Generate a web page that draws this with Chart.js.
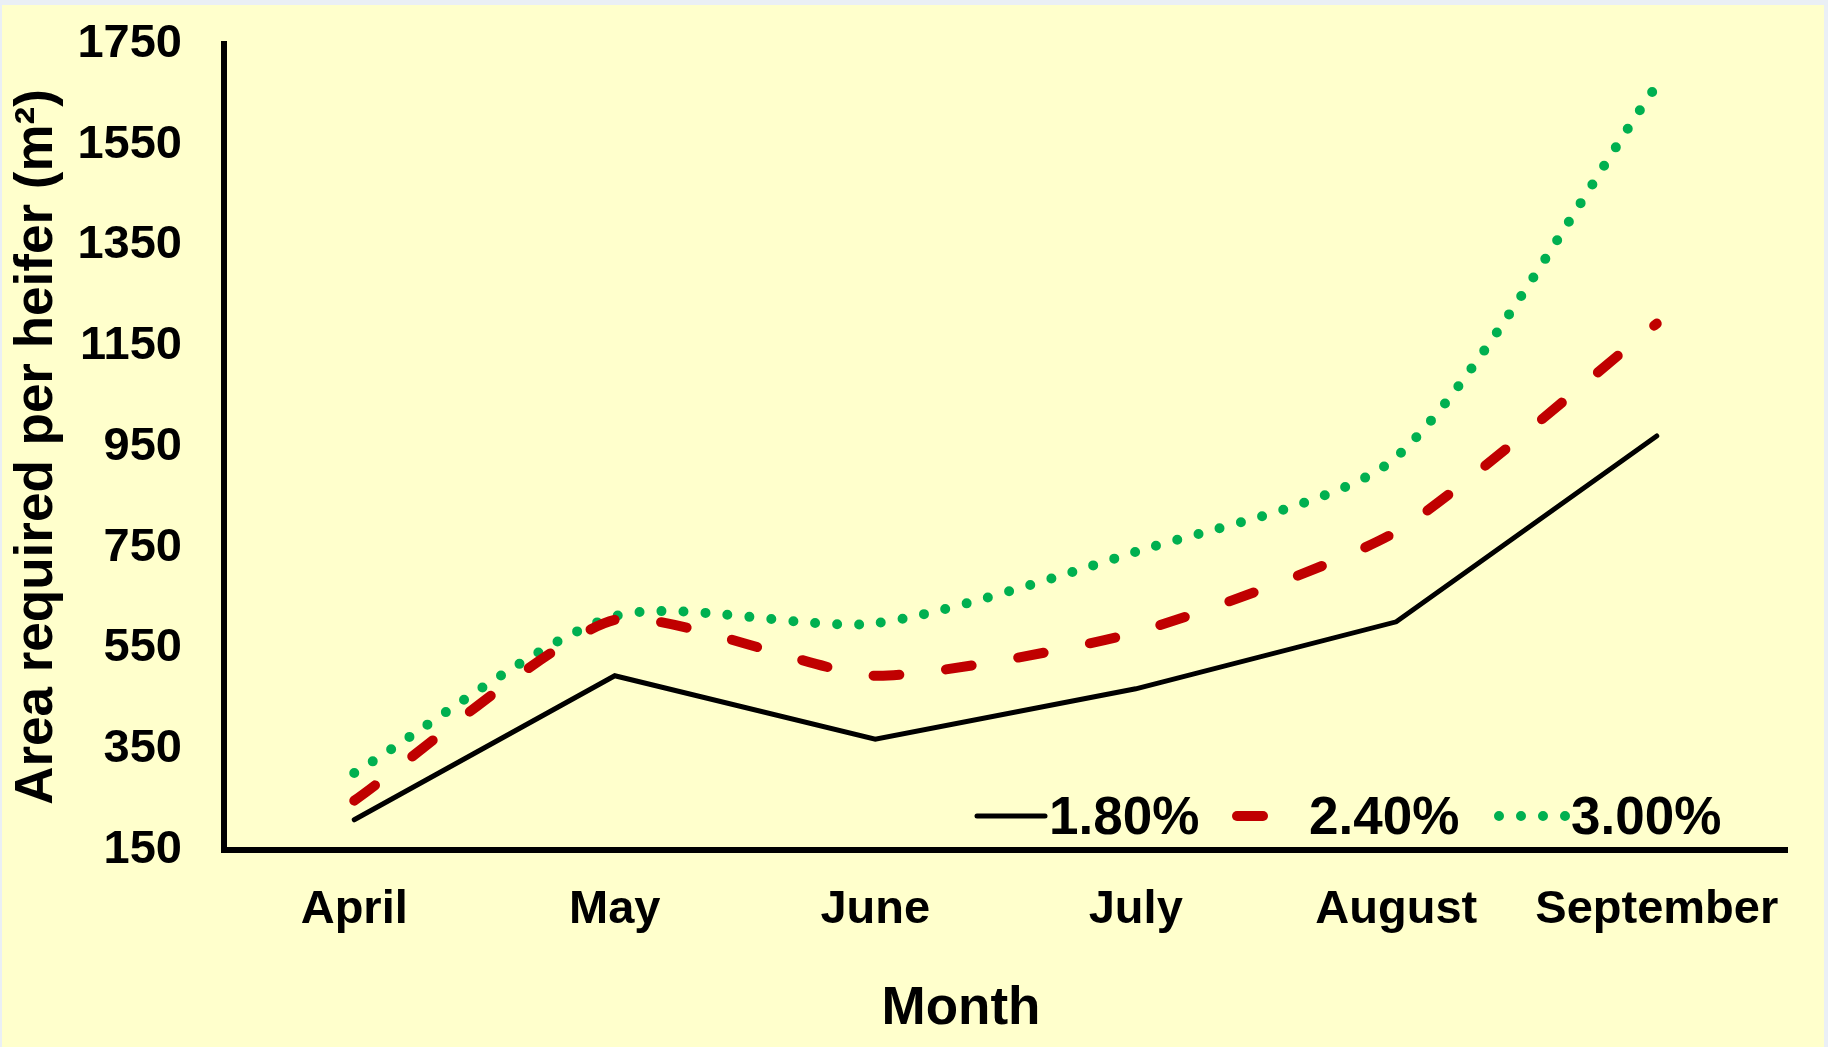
<!DOCTYPE html>
<html>
<head>
<meta charset="utf-8">
<title>Area required per heifer</title>
<script src="https://cdn.jsdelivr.net/npm/chart.js@4.4.1/dist/chart.umd.min.js"></script>
<style>
  html, body { margin: 0; padding: 0; background: #eaeff5; overflow: hidden; }
  #wrap { position: absolute; left: 2px; top: 5px; width: 1822px; height: 1042px; background: #ffffcc; }
</style>
</head>
<body>
<div id="wrap"><canvas id="areaChart" width="1822" height="1042"></canvas></div>
<script>
// months on the x axis
const months = ['April', 'May', 'June', 'July', 'August', 'September'];
// intake levels (legend)
const seriesLabels = ['1.80%', '2.40%', '3.00%'];
// area needed per heifer, m2
const area180 = [210, 496, 370, 470, 603, 972];
const area240 = [248, 607, 496, 582, 782, 1195];
const area300 = [303, 614, 600, 742, 930, 1668];
const yTicks = [150, 350, 550, 750, 950, 1150, 1350, 1550, 1750];

const FONT = "'Liberation Sans', Arial, sans-serif";

// legend drawn inside the plot, bottom right
const insideLegend = {
  id: 'insideLegend',
  afterDatasetsDraw(chart) {
    const { ctx, chartArea } = chart;
    const y = chartArea.bottom - 34;
    const starts = [753, 1013, 1275]; // offset from chartArea.left
    const sampleLen = 68;
    ctx.save();
    chart.data.datasets.forEach((ds, i) => {
      const x0 = chartArea.left + starts[i];
      ctx.beginPath();
      ctx.strokeStyle = ds.borderColor;
      ctx.lineWidth = ds.borderWidth;
      ctx.lineCap = ds.borderCapStyle || 'butt';
      ctx.setLineDash(ds.borderDash || []);
      ctx.moveTo(x0, y);
      ctx.lineTo(x0 + sampleLen, y);
      ctx.stroke();
      ctx.setLineDash([]);
      ctx.fillStyle = '#000';
      ctx.font = 'bold 53px ' + FONT;
      ctx.textAlign = 'left';
      ctx.textBaseline = 'middle';
      ctx.fillText(ds.label, x0 + sampleLen + 4, y + 3);
    });
    // x axis title
    ctx.font = 'bold 53px ' + FONT;
    ctx.textAlign = 'center';
    ctx.fillText('Month', chartArea.left + 737, chartArea.bottom + 159);
    ctx.restore();
  }
};

const ctx = document.getElementById('areaChart').getContext('2d');
new Chart(ctx, {
  type: 'line',
  data: {
    labels: months,
    datasets: [
      {
        label: seriesLabels[0],
        data: area180,
        borderColor: '#000000',
        borderWidth: 5,
        borderCapStyle: 'round',
        tension: 0
      },
      {
        label: seriesLabels[1],
        data: area240,
        borderColor: '#c00000',
        borderWidth: 10,
        borderCapStyle: 'round',
        borderDash: [26, 47],
        tension: 0.2
      },
      {
        label: seriesLabels[2],
        data: area300,
        borderColor: '#00b050',
        borderWidth: 10,
        borderCapStyle: 'round',
        borderDash: [0, 22],
        tension: 0.25
      }
    ]
  },
  options: {
    responsive: false,
    animation: false,
    layout: { padding: { top: 39, right: 37, left: 0, bottom: 0 } },
    elements: { point: { radius: 0, hoverRadius: 0 } },
    plugins: {
      legend: { display: false },
      tooltip: { enabled: false }
    },
    scales: {
      x: {
        offset: true,
        grid: { display: false, drawTicks: false },
        border: { display: true, color: '#000', width: 6 },
        ticks: {
          color: '#000',
          padding: 32,
          maxRotation: 0,
          autoSkip: false,
          font: { family: FONT, size: 47, weight: 'bold' }
        },
        afterFit: s => { s.height = 197; }
      },
      y: {
        min: 150,
        max: 1750,
        grid: { display: false, drawTicks: false },
        border: { display: true, color: '#000', width: 6 },
        ticks: {
          color: '#000',
          padding: 42,
          font: { family: FONT, size: 47, weight: 'bold' },
          callback: v => String(v)
        },
        afterBuildTicks: s => { s.ticks = yTicks.map(v => ({ value: v })); },
        afterFit: s => { s.width = 222; s.paddingTop = 0; s.paddingBottom = 0; },
        title: {
          display: true,
          text: 'Area required per heifer (m²)',
          color: '#000',
          padding: { top: 4, bottom: 0 },
          font: { family: FONT, size: 53, weight: 'bold' }
        }
      }
    }
  },
  plugins: [insideLegend]
});
</script>
</body>
</html>
